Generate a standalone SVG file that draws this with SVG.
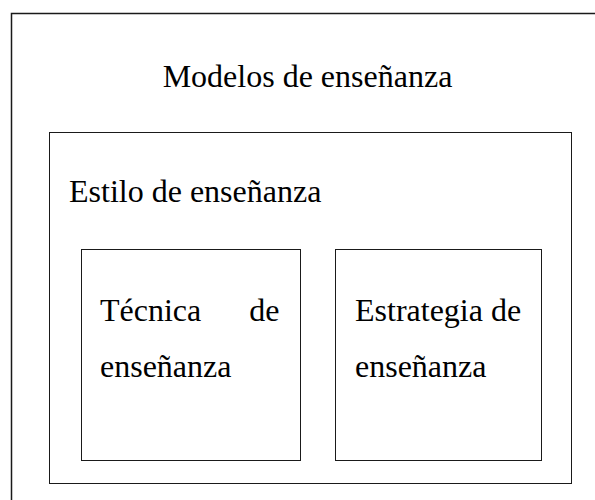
<svg xmlns="http://www.w3.org/2000/svg" width="595" height="500" viewBox="0 0 595 500">
<style>
.box{fill:#fff;stroke:#1a1a1a;stroke-width:1}
.outer{fill:#fff;stroke:#1a1a1a;stroke-width:1.5}
.t{font-family:"Liberation Serif","Times New Roman",serif;font-size:32px;fill:#000}
</style>
<rect width="595" height="500" fill="#fff"/>
<g id="modelos">
<rect class="outer" x="11.5" y="13.5" width="600" height="500"/>
<text class="t" x="307.5" y="86.5" text-anchor="middle">Modelos de enseñanza</text>
</g>
<g id="estilo">
<rect class="box" x="49.5" y="132.5" width="522" height="351"/>
<text class="t" x="69" y="202">Estilo de enseñanza</text>
</g>
<g id="tecnica">
<rect class="box" x="81.5" y="249.5" width="219" height="211"/>
<text class="t" x="100" y="320.5">Técnica</text>
<text class="t" x="279.5" y="320.5" text-anchor="end">de</text>
<text class="t" x="100" y="376.5">enseñanza</text>
</g>
<g id="estrategia">
<rect class="box" x="335.5" y="249.5" width="206" height="211"/>
<text class="t" x="355" y="320.5">Estrategia de</text>
<text class="t" x="355" y="376.5">enseñanza</text>
</g>
<g id="connectors"></g>
</svg>
